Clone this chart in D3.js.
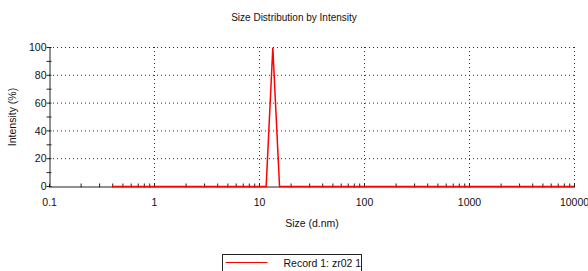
<!DOCTYPE html>
<html>
<head>
<meta charset="utf-8">
<script src="https://cdn.jsdelivr.net/npm/d3@7.9.0/dist/d3.min.js"></script>
<style>
  body { margin: 0; background: #fff; }
  svg { display: block; font-family: "Liberation Sans", Arial, sans-serif; }
  .grid line { stroke: #333; stroke-dasharray: 1,3; stroke-width: 1; }
</style>
</head>
<body>
<svg id="chart" width="588" height="271"></svg>
<script>
// size bins (d.nm) and intensity (%) for Record 1
const sizes = [
  0.4, 0.4632, 0.5365, 0.6213, 0.7195, 0.8332, 0.9649, 1.117, 1.294, 1.499,
  1.736, 2.01, 2.328, 2.696, 3.122, 3.615, 4.187, 4.849, 5.615, 6.503,
  7.531, 8.721, 10.1, 11.7, 13.54, 15.69, 18.17, 21.04, 24.36, 28.21,
  32.67, 37.84, 43.82, 50.75, 58.77, 68.06, 78.82, 91.28, 105.7, 122.4,
  141.8, 164.2, 190.1, 220.2, 255.0, 295.3, 342.0, 396.1, 458.7, 531.2,
  615.1, 712.4, 825.0, 955.4, 1106, 1281, 1484, 1718, 1990, 2305,
  2669, 3091, 3580, 4145, 4801, 5560, 6439, 7456, 8635, 10000
];
const intensity = [
  0, 0, 0, 0, 0, 0, 0, 0, 0, 0,
  0, 0, 0, 0, 0, 0, 0, 0, 0, 0,
  0, 0, 0, 0, 100, 0, 0, 0, 0, 0,
  0, 0, 0, 0, 0, 0, 0, 0, 0, 0,
  0, 0, 0, 0, 0, 0, 0, 0, 0, 0,
  0, 0, 0, 0, 0, 0, 0, 0, 0, 0,
  0, 0, 0, 0, 0, 0, 0, 0, 0, 0
];
const xMajor = [0.1, 1, 10, 100, 1000, 10000];
const yMajor = [0, 20, 40, 60, 80, 100];
const yMinor = [10, 30, 50, 70, 90];
const seriesName = 'Record 1: zr02 1';

const svg = d3.select('#chart');
const x = d3.scaleLog().domain([0.1, 10000]).range([49, 574]);
const y = d3.scaleLinear().domain([0, 100]).range([186, 47]);

// grid
const grid = svg.append('g').attr('class', 'grid');
grid.selectAll('.h')
  .data(yMajor.slice(1))
  .enter().append('line')
  .attr('x1', x(0.1)).attr('x2', x(10000))
  .attr('y1', d => y(d) + 0.5).attr('y2', d => y(d) + 0.5);
grid.selectAll('.v')
  .data(xMajor.slice(1))
  .enter().append('line')
  .attr('x1', d => Math.round(x(d)) + 0.5).attr('x2', d => Math.round(x(d)) + 0.5)
  .attr('y1', y(100)).attr('y2', y(0));

// x axis
const xAxis = svg.append('g')
  .attr('transform', `translate(0,${y(0) + 0.5})`)
  .call(d3.axisBottom(x)
    .tickValues(x.ticks())
    .tickSize(0)
    .tickFormat(d => xMajor.includes(d) ? d3.format('~g')(d) : ''));
xAxis.select('.domain').attr('stroke', '#222');
xAxis.selectAll('.tick line').attr('y1', -3).attr('y2', 1).attr('stroke', '#222');
xAxis.selectAll('.tick text')
  .attr('y', 19).attr('dy', 0)
  .attr('font-size', 10.5).attr('fill', '#111').attr('font-family', null);

// y axis
const yAxis = svg.append('g')
  .attr('transform', `translate(${x(0.1) + 0.5},0)`)
  .call(d3.axisLeft(y)
    .tickValues(yMajor.concat(yMinor))
    .tickSize(0)
    .tickFormat(d => yMajor.includes(d) ? d : ''));
yAxis.select('.domain').attr('stroke', '#222');
yAxis.selectAll('.tick line').attr('x1', -3).attr('x2', 2).attr('stroke', '#222');
yAxis.selectAll('.tick text')
  .attr('x', -3).attr('dy', '0.35em')
  .attr('font-size', 10.5).attr('fill', '#111').attr('font-family', null);

// data line
const line = d3.line()
  .x((d, i) => x(sizes[i]))
  .y(d => y(d) + 0.5);
svg.append('path')
  .datum(intensity)
  .attr('d', line)
  .attr('fill', 'none')
  .attr('stroke', '#ff0000')
  .attr('stroke-width', 1.5);

// titles
svg.append('text')
  .attr('x', 294).attr('y', 21)
  .attr('text-anchor', 'middle')
  .attr('font-size', 10)
  .attr('fill', '#111')
  .text('Size Distribution by Intensity');
svg.append('text')
  .attr('x', 312).attr('y', 227)
  .attr('text-anchor', 'middle')
  .attr('font-size', 10.5)
  .attr('fill', '#111')
  .text('Size (d.nm)');
svg.append('text')
  .attr('transform', 'translate(16,117) rotate(-90)')
  .attr('text-anchor', 'middle')
  .attr('font-size', 10.5)
  .attr('fill', '#111')
  .text('Intensity (%)');

// legend
const legend = svg.append('g').attr('transform', 'translate(222.5,254.5)');
legend.append('rect')
  .attr('width', 139).attr('height', 30)
  .attr('fill', '#fff').attr('stroke', '#222');
legend.append('line')
  .attr('x1', 3).attr('x2', 45).attr('y1', 8).attr('y2', 8)
  .attr('stroke', '#ff0000');
legend.append('text')
  .attr('x', 61).attr('y', 12)
  .attr('font-size', 10.5)
  .attr('fill', '#111')
  .text(seriesName);
</script>
</body>
</html>
